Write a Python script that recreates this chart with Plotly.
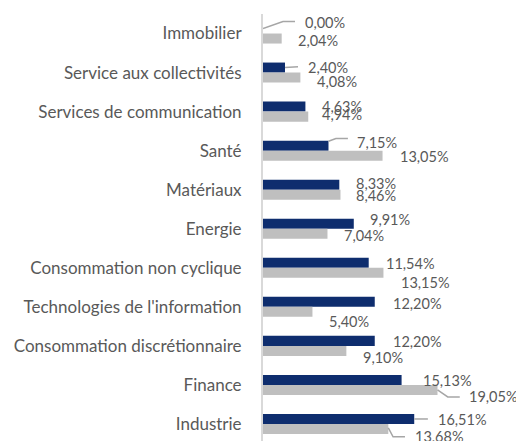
import plotly.graph_objects as go

categories = ["Immobilier", "Service aux collectivités", "Services de communication", "Santé",
              "Matériaux", "Energie", "Consommation non cyclique", "Technologies de l'information",
              "Consommation discrétionnaire", "Finance", "Industrie"]
navy_values = [0.00, 2.40, 4.63, 7.15, 8.33, 9.91, 11.54, 12.20, 12.20, 15.13, 16.51]
gray_values = [2.04, 4.08, 4.94, 13.05, 8.46, 7.04, 13.15, 5.40, 9.10, 19.05, 13.68]

# label placement offsets (layout only): dx in % units from bar end, dy in category units from centre
navy_dx = [4.47, 2.40, 1.69, 2.99, 1.70, 1.65, 1.76, 1.87, 1.87, 2.21, 2.46]
navy_dy = [-0.282, -0.128, -0.128, -0.205, -0.154, -0.231, -0.103, -0.077, -0.103, -0.103, -0.103]
gray_dx = [1.67, 1.70, 1.38, 1.78, 1.57, 1.68, 1.79, 1.69, 1.70, 3.31, 2.79]
gray_dy = [0.179, 0.231, 0.077, 0.154, 0.154, 0.179, 0.385, 0.385, 0.308, 0.308, 0.308]

NAVY = "#0E2D6E"
GRAY = "#BFBFBF"
TXT = "#595959"
FONT = "Lato"

def fmt(v):
    return f"{v:.2f}".replace(".", ",") + "%"

fig = go.Figure()
fig.add_trace(go.Bar(y=categories, x=navy_values, orientation="h", marker_color=NAVY,
                     marker_line_width=0, hoverinfo="skip"))
fig.add_trace(go.Bar(y=categories, x=gray_values, orientation="h", marker_color=GRAY,
                     marker_line_width=0, hoverinfo="skip"))

for i in range(len(categories)):
    fig.add_annotation(x=navy_values[i] + navy_dx[i], y=i + navy_dy[i], xref="x", yref="y",
                       text=fmt(navy_values[i]), showarrow=False, xanchor="left", yanchor="middle",
                       borderpad=0, font=dict(family=FONT, size=14.5, color=TXT))
    fig.add_annotation(x=gray_values[i] + gray_dx[i], y=i + gray_dy[i], xref="x", yref="y",
                       text=fmt(gray_values[i]), showarrow=False, xanchor="left", yanchor="middle",
                       borderpad=0, font=dict(family=FONT, size=14.5, color=TXT))

# leader lines (category index, series, relative path points as (dx, dy))
leaders = [
    (0, "navy", [(0, -0.128), (2.18, -0.308), (3.49, -0.308)]),
    (1, "navy", [(0, -0.128), (1.42, -0.15)]),
    (3, "navy", [(0, -0.24), (0.81, -0.31), (2.12, -0.31)]),
    (9, "gray", [(0, 0.128), (1.12, 0.308), (2.43, 0.308)]),
    (10, "navy", [(0, -0.128), (1.49, -0.128)]),
    (10, "gray", [(0, 0.10), (0.52, 0.33), (1.82, 0.33)]),
]
for idx, s, pts in leaders:
    base = navy_values[idx] if s == "navy" else gray_values[idx]
    path = ""
    for k, (dx, dy) in enumerate(pts):
        path += ("M" if k == 0 else " L") + f"{base + dx},{idx + dy}"
    fig.add_shape(type="path", path=path, xref="x", yref="y",
                  line=dict(color="#A6A6A6", width=1.5))

fig.update_layout(
    width=516, height=441,
    barmode="group", bargap=0.487, bargroupgap=0,
    showlegend=False,
    plot_bgcolor="white", paper_bgcolor="white",
    margin=dict(l=263, r=24, t=14, b=0),
    font=dict(family=FONT, color=TXT, size=14),
)
fig.update_xaxes(range=[0, 25], visible=False, showgrid=False, zeroline=False)
fig.update_yaxes(type="category", categoryorder="array", categoryarray=categories,
                 range=[10.436, -0.5], showline=True, linecolor="#D9D9D9", linewidth=2,
                 showgrid=False, zeroline=False, ticks="", ticklabelstandoff=16,
                 tickfont=dict(family=FONT, size=17, color=TXT))

fig.write_html("out.html", config={"displayModeBar": False},
               post_script="document.body.style.margin='0';document.body.style.overflow='hidden';")
